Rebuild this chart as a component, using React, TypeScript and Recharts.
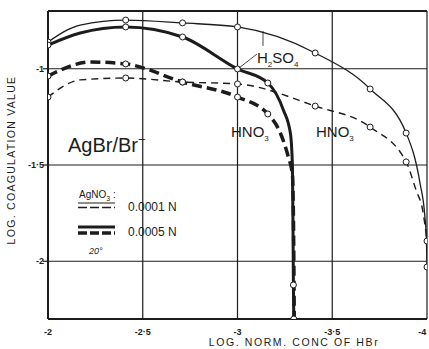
import React from 'react';
import { ComposedChart, Line, Scatter, XAxis, YAxis, CartesianGrid, ReferenceLine } from 'recharts';

type Pt = [number, number];

// measured points (open circles), log conc HBr vs log coagulation value
const h2so4DiluteMarks: Pt[] = [[-2, -0.861], [-2.41, -0.747], [-2.71, -0.762], [-3.0, -0.783], [-3.41, -0.918], [-3.7, -1.105], [-3.89, -1.334], [-4.0, -2.03]];
const h2so4StrongMarks: Pt[] = [[-2, -0.877], [-2.41, -0.783], [-2.71, -0.835], [-3.0, -1.001], [-3.16, -1.074], [-3.295, -2.123], [-3.297, -2.3]];
const hno3DiluteMarks: Pt[] = [[-2, -1.147], [-2.41, -1.048], [-2.71, -1.069], [-3.0, -1.079], [-3.41, -1.194], [-3.7, -1.303], [-3.89, -1.484], [-4.0, -1.895]];
const hno3StrongMarks: Pt[] = [[-2, -1.038], [-2.41, -0.975], [-2.71, -1.069], [-3.0, -1.147], [-3.16, -1.235]];

// extra points (no circle)
const h2so4DiluteTrace: Pt[] = [[-2.17, -0.773], [-3.963, -1.594], [-3.989, -1.77], [-3.997, -1.89]];
const h2so4StrongTrace: Pt[] = [[-2.17, -0.814], [-3.242, -1.214], [-3.279, -1.334], [-3.29, -1.51], [-3.293, -1.838]];
const hno3DiluteTrace: Pt[] = [[-2.17, -1.058], [-3.942, -1.63], [-3.979, -1.744]];
const hno3StrongTrace: Pt[] = [[-2.226, -0.965], [-3.226, -1.334], [-3.268, -1.458], [-3.29, -1.552], [-3.2965, -1.9], [-3.2995, -2.3]];

const xTicks = [-2, -2.5, -3, -3.5, -4];
const yTicks = [-1, -1.5, -2];
const fmt = (v: number) => String(v).replace('.', '\u00b7');

const toRows = (pts: Pt[]) => pts.map(([x, y]) => ({ x, y }));
const curve = (marks: Pt[], trace: Pt[]) => toRows([...marks, ...trace].sort((a, b) => b[0] - a[0]));

const INK = '#1c1c1c';
const font = '"Liberation Sans", Arial, sans-serif';

const ring = (p: any) => <circle cx={p.cx} cy={p.cy} r={3} fill="#fff" stroke={INK} strokeWidth={1} />;

const XTick = (p: any) => (
  <text x={p.x} y={p.y + 8} textAnchor="middle" fontSize={9} fontWeight="bold" fill={INK} fontFamily={font}>
    {fmt(p.payload.value)}
  </text>
);
const YTick = (p: any) => (
  <text x={44} y={p.y + 3} textAnchor="end" fontSize={9} fontWeight="bold" fill={INK} fontFamily={font}>
    {fmt(p.payload.value)}
  </text>
);

export default function App() {
  return (
    <div style={{ position: 'absolute', left: 0, top: 0, width: 429, height: 349, background: '#fff', fontFamily: font }}>
      <ComposedChart width={429} height={349} margin={{ top: 11, right: 2, bottom: 0, left: 0 }}>
        <CartesianGrid stroke={INK} strokeWidth={1.2} horizontal vertical />
        <XAxis type="number" dataKey="x" domain={[-4, -2]} reversed ticks={xTicks} height={30}
          axisLine={{ stroke: INK, strokeWidth: 2 }} tickLine={false} tick={<XTick />} allowDataOverflow />
        <YAxis type="number" dataKey="y" domain={[-2.3, -0.7]} ticks={yTicks} width={48}
          axisLine={{ stroke: INK, strokeWidth: 2 }} tickLine={{ stroke: INK, strokeWidth: 1.2 }} tickSize={5} tick={<YTick />} allowDataOverflow />
        <ReferenceLine y={-0.7} stroke={INK} strokeWidth={2} />
        <Line data={curve(h2so4DiluteMarks, h2so4DiluteTrace)} dataKey="y" type="monotoneX" stroke={INK} strokeWidth={1.3} dot={false} isAnimationActive={false} />
        <Line data={curve(hno3DiluteMarks, hno3DiluteTrace)} dataKey="y" type="monotoneX" stroke={INK} strokeWidth={1.4} strokeDasharray="7 5" dot={false} isAnimationActive={false} />
        <Line data={curve(h2so4StrongMarks, h2so4StrongTrace)} dataKey="y" type="monotoneX" stroke={INK} strokeWidth={3} dot={false} isAnimationActive={false} />
        <Line data={curve(hno3StrongMarks, hno3StrongTrace)} dataKey="y" type="monotoneX" stroke={INK} strokeWidth={3.5} strokeDasharray="10 5" dot={false} isAnimationActive={false} />
        <Scatter data={toRows(h2so4DiluteMarks)} dataKey="y" shape={ring} isAnimationActive={false} />
        <Scatter data={toRows(hno3DiluteMarks)} dataKey="y" shape={ring} isAnimationActive={false} />
        <Scatter data={toRows(h2so4StrongMarks)} dataKey="y" shape={ring} isAnimationActive={false} />
        <Scatter data={toRows(hno3StrongMarks)} dataKey="y" shape={ring} isAnimationActive={false} />
      </ComposedChart>
      <svg width={429} height={349} style={{ position: 'absolute', left: 0, top: 0, pointerEvents: 'none' }} fontFamily={font} fill={INK}>
        <text x={15} y={160} transform="rotate(-90 15 160)" textAnchor="middle" fontSize={10.5} letterSpacing={1.3}>LOG. COAGULATION VALUE</text>
        <text x={294} y={346} textAnchor="middle" fontSize={10.5} letterSpacing={1.6}>LOG. NORM. CONC OF HBr</text>
        <text x={68} y={152} fontSize={20}>AgBr/Br<tspan dy={-8} fontSize={13}>−</tspan></text>
        <text x={257} y={63} fontSize={15}>H<tspan dy={4} fontSize={8}>2</tspan><tspan dy={-4}>SO</tspan><tspan dy={4} fontSize={8}>4</tspan></text>
        <line x1={239} y1={68} x2={257} y2={54} stroke={INK} strokeWidth={0.8} />
        <line x1={263} y1={31} x2={263} y2={46} stroke={INK} strokeWidth={0.8} />
        <text x={231} y={137} fontSize={15}>HNO<tspan dy={4} fontSize={8}>3</tspan></text>
        <text x={316} y={137} fontSize={15}>HNO<tspan dy={4} fontSize={8}>3</tspan></text>
        <text x={79} y={198} fontSize={10}>AgNO<tspan dy={3} fontSize={7}>3</tspan><tspan dy={-3}> :</tspan></text>
        <line x1={78} y1={203} x2={115} y2={203} stroke={INK} strokeWidth={1.2} />
        <line x1={78} y1={207.5} x2={115} y2={207.5} stroke={INK} strokeWidth={1.3} strokeDasharray="9 3" />
        <text x={128} y={211} fontSize={12}>0.0001 N</text>
        <line x1={78} y1={227} x2={115} y2={227} stroke={INK} strokeWidth={3} />
        <line x1={78} y1={233} x2={115} y2={233} stroke={INK} strokeWidth={3.5} strokeDasharray="9 3" />
        <text x={128} y={236} fontSize={12}>0.0005 N</text>
        <text x={89} y={254} fontSize={9} fontStyle="italic">20°</text>
      </svg>
    </div>
  );
}
